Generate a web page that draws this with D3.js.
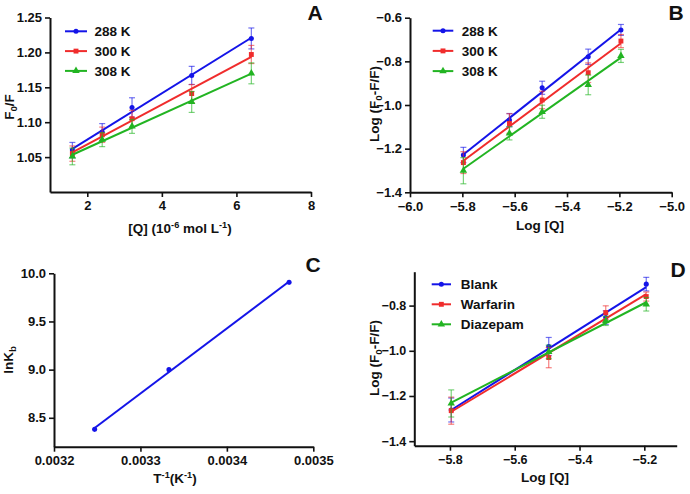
<!DOCTYPE html>
<html><head><meta charset="utf-8">
<script src="https://cdn.jsdelivr.net/npm/d3@7"></script>
<style>
body{margin:0;background:#fff}
text{font-family:"Liberation Sans",Arial,sans-serif;font-weight:bold;fill:#111}
</style>
</head><body><svg id="c" width="690" height="494"></svg>
<script>
// ---------- data ----------
const tempLabels = ["288 K", "300 K", "308 K"];
const siteLabels = ["Blank", "Warfarin", "Diazepam"];

// Panel A: F0/F vs [Q]
const concA = [1.6, 2.4, 3.2, 4.8, 6.4];
const a288 = [1.060, 1.086, 1.121, 1.167, 1.220];
const a300 = [1.055, 1.082, 1.105, 1.141, 1.197];
const a308 = [1.051, 1.075, 1.094, 1.129, 1.170];
const errA288 = [0.011, 0.012, 0.014, 0.013, 0.015];
const errA300 = [0.011, 0.011, 0.012, 0.013, 0.013];
const errA308 = [0.012, 0.010, 0.010, 0.015, 0.015];
const ticksAx = [2, 4, 6, 8];
const ticksAy = [1.05, 1.10, 1.15, 1.20, 1.25];

// Panel B: log((F0-F)/F) vs log[Q]
const logQB = [-5.796, -5.620, -5.495, -5.319, -5.194];
const b288 = [-1.229, -1.069, -0.921, -0.779, -0.656];
const b300 = [-1.264, -1.085, -0.977, -0.852, -0.707];
const b308 = [-1.301, -1.130, -1.031, -0.908, -0.775];
const errB288 = [0.035, 0.030, 0.030, 0.035, 0.025];
const errB300 = [0.050, 0.045, 0.040, 0.045, 0.030];
const errB308 = [0.060, 0.030, 0.030, 0.045, 0.030];
const ticksBx = [-6.0, -5.8, -5.6, -5.4, -5.2, -5.0];
const ticksBy = [-1.4, -1.2, -1.0, -0.8, -0.6];

// Panel C: lnKb vs 1/T
const invT = [0.003247, 0.003333, 0.003472];
const lnKb = [8.38, 9.00, 9.906];
const ticksCx = [0.0032, 0.0033, 0.0034, 0.0035];
const ticksCy = [8.5, 9.0, 9.5, 10.0];

// Panel D: site markers
const logQD = [-5.796, -5.495, -5.319, -5.194];
const dBlank = [-1.262, -0.981, -0.853, -0.705];
const dWarf = [-1.265, -1.030, -0.831, -0.760];
const dDiaz = [-1.233, -1.005, -0.868, -0.794];
const errDBlank = [0.053, 0.040, 0.030, 0.030];
const errDWarf = [0.060, 0.045, 0.030, 0.020];
const errDDiaz = [0.060, 0.030, 0.020, 0.030];
const ticksDx = [-5.8, -5.6, -5.4, -5.2];
const ticksDy = [-1.4, -1.2, -1.0, -0.8];

// ---------- drawing ----------
const svg = d3.select("#c");
const COL = {blue: "#1414e8", red: "#f02c2c", green: "#22b422"};
const colors = [COL.blue, COL.red, COL.green];
const shapes = [d3.symbolCircle, d3.symbolSquare, d3.symbolTriangle];
const shapeSize = [20, 24, 24];

function regress(xs, ys) {
  const n = xs.length, mx = d3.mean(xs), my = d3.mean(ys);
  let sxy = 0, sxx = 0;
  for (let i = 0; i < n; i++) { sxy += (xs[i]-mx)*(ys[i]-my); sxx += (xs[i]-mx)**2; }
  const b = sxy / sxx; return {b, a: my - b*mx};
}

function richText(sel, parts, size) {
  // parts: [text, mode] mode: 0 normal, 1 sub, 2 sup
  let cur = 0;
  parts.forEach(([t, m]) => {
    const ts = sel.append("tspan").text(t);
    let target = 0;
    if (m === 1) { target = 2.5; ts.attr("font-size", size*0.72); }
    if (m === 2) { target = -5; ts.attr("font-size", size*0.68); }
    if (target !== cur) ts.attr("dy", target - cur);
    cur = target;
  });
}

function panel(cfg) {
  const g = svg.append("g");
  const x = d3.scaleLinear().domain(cfg.xd).range(cfg.xr);
  const y = d3.scaleLinear().domain(cfg.yd).range(cfg.yr);
  const fs = cfg.fs || 13;

  const ax = g.append("g").attr("transform", `translate(0,${cfg.yr[0]})`)
    .call(d3.axisBottom(x).tickValues(cfg.xt).tickFormat(cfg.xf).tickSize(5).tickSizeOuter(0).tickPadding(4));
  const ay = g.append("g").attr("transform", `translate(${cfg.xr[0]},0)`)
    .call(d3.axisLeft(y).tickValues(cfg.yt).tickFormat(cfg.yf).tickSize(5).tickSizeOuter(0).tickPadding(3));
  [ax, ay].forEach(a => {
    a.select(".domain").attr("stroke", "#111").attr("stroke-width", 2);
    a.selectAll(".tick line").attr("stroke", "#111").attr("stroke-width", 1.6);
    a.selectAll(".tick text").attr("font-size", fs).attr("font-family", null).attr("fill", "#111");
  });

  cfg.series.forEach((s, i) => {
    const col = colors[i];
    if (s.err) {
      s.x.forEach((xv, j) => {
        const e = s.err[j], cx = x(xv);
        const eg = g.append("g").attr("stroke", col).attr("stroke-opacity", 0.6).attr("stroke-width", 1.2);
        eg.append("line").attr("x1", cx).attr("x2", cx).attr("y1", y(s.y[j]-e)).attr("y2", y(s.y[j]+e));
        [s.y[j]-e, s.y[j]+e].forEach(v => eg.append("line").attr("x1", cx-3).attr("x2", cx+3).attr("y1", y(v)).attr("y2", y(v)));
      });
    }
    const r = regress(s.x, s.y);
    const x0 = d3.min(s.x), x1 = d3.max(s.x);
    g.append("line").attr("x1", x(x0)).attr("x2", x(x1))
      .attr("y1", y(r.a + r.b*x0)).attr("y2", y(r.a + r.b*x1))
      .attr("stroke", col).attr("stroke-width", 2);
    g.selectAll(null).data(s.x.map((xv, j) => [xv, s.y[j]])).enter().append("path")
      .attr("d", d3.symbol().type(shapes[i]).size(shapeSize[i]))
      .attr("transform", d => `translate(${x(d[0])},${y(d[1])})`)
      .attr("fill", col);
  });

  if (cfg.legend) {
    const L = cfg.legend;
    L.labels.forEach((lab, i) => {
      const ly = L.y + i*L.dy;
      g.append("line").attr("x1", L.x).attr("x2", L.x + L.w).attr("y1", ly).attr("y2", ly)
        .attr("stroke", colors[i]).attr("stroke-width", 2);
      g.append("path").attr("d", d3.symbol().type(shapes[i]).size(shapeSize[i])())
        .attr("transform", `translate(${L.x + L.w/2},${ly})`).attr("fill", colors[i]);
      g.append("text").attr("x", L.tx).attr("y", ly + 5).attr("font-size", 13.5).text(lab);
    });
  }

  g.append("text").attr("x", cfg.letter[0]).attr("y", cfg.letter[1]).attr("font-size", 21)
    .attr("text-anchor", "middle").text(cfg.letter[2]);
  const xt = g.append("text").attr("x", cfg.xtitle.x).attr("y", cfg.xtitle.y)
    .attr("text-anchor", "middle").attr("font-size", 13.5);
  richText(xt, cfg.xtitle.parts, 13.5);
  const yt = g.append("text").attr("transform", `translate(${cfg.ytitle.x},${cfg.ytitle.y}) rotate(-90)`)
    .attr("text-anchor", "middle").attr("font-size", 13.5);
  richText(yt, cfg.ytitle.parts, 13.5);
}

const f2 = d3.format(".2f"), f1 = d3.format(".1f"), f0 = d3.format("d"), f4 = d3.format(".4f");

panel({
  xd: [1, 8], xr: [50, 311], yd: [1.0, 1.25], yr: [192, 17.5],
  xt: ticksAx, yt: ticksAy, xf: f0, yf: f2,
  series: [
    {x: concA, y: a288, err: errA288},
    {x: concA, y: a300, err: errA300},
    {x: concA, y: a308, err: errA308}],
  legend: {labels: tempLabels, x: 65, w: 22, y: 31.3, dy: 19.8, tx: 94.5},
  letter: [315, 20, "A"],
  xtitle: {x: 180, y: 233, parts: [["[Q] (10", 0], ["-6", 2], [" mol L", 0], ["-1", 2], [")", 0]]},
  ytitle: {x: 14, y: 107, parts: [["F", 0], ["0", 1], ["/F", 0]]}
});

panel({
  xd: [-6, -5], xr: [410, 671.7], yd: [-1.4, -0.6], yr: [192.3, 17.7],
  xt: ticksBx, yt: ticksBy, xf: f1, yf: f1,
  series: [
    {x: logQB, y: b288, err: errB288},
    {x: logQB, y: b300, err: errB300},
    {x: logQB, y: b308, err: errB308}],
  legend: {labels: tempLabels, x: 432.7, w: 20.6, y: 30.7, dy: 20.2, tx: 461.7},
  letter: [676, 20, "B"],
  xtitle: {x: 540, y: 230, parts: [["Log [Q]", 0]]},
  ytitle: {x: 379, y: 104, parts: [["Log (F", 0], ["0", 1], ["-F/F)", 0]]}
});

panel({
  xd: [0.0032, 0.0035], xr: [54, 313.3], yd: [8.2, 10.0], yr: [446.7, 273.3],
  xt: ticksCx, yt: ticksCy, xf: f4, yf: f1,
  series: [{x: invT, y: lnKb}],
  letter: [313, 272, "C"],
  xtitle: {x: 175, y: 483, parts: [["T", 0], ["-1", 2], ["(K", 0], ["-1", 2], [")", 0]]},
  ytitle: {x: 13, y: 360, parts: [["lnK", 0], ["b", 1]]}
});

panel({
  xd: [-5.91, -5.1], xr: [414.3, 676.7], yd: [-1.42, -0.65], yr: [445.7, 271.7],
  xt: ticksDx, yt: ticksDy, xf: f1, yf: f1, fs: 12.5,
  series: [
    {x: logQD, y: dBlank, err: errDBlank},
    {x: logQD, y: dWarf, err: errDWarf},
    {x: logQD, y: dDiaz, err: errDDiaz}],
  legend: {labels: siteLabels, x: 431.7, w: 19.3, y: 284.3, dy: 20, tx: 460.7},
  letter: [678, 277, "D"],
  xtitle: {x: 545, y: 481.7, parts: [["Log [Q]", 0]]},
  ytitle: {x: 379, y: 358, parts: [["Log (F", 0], ["0", 1], ["-F/F)", 0]]}
});
</script>
</body></html>
